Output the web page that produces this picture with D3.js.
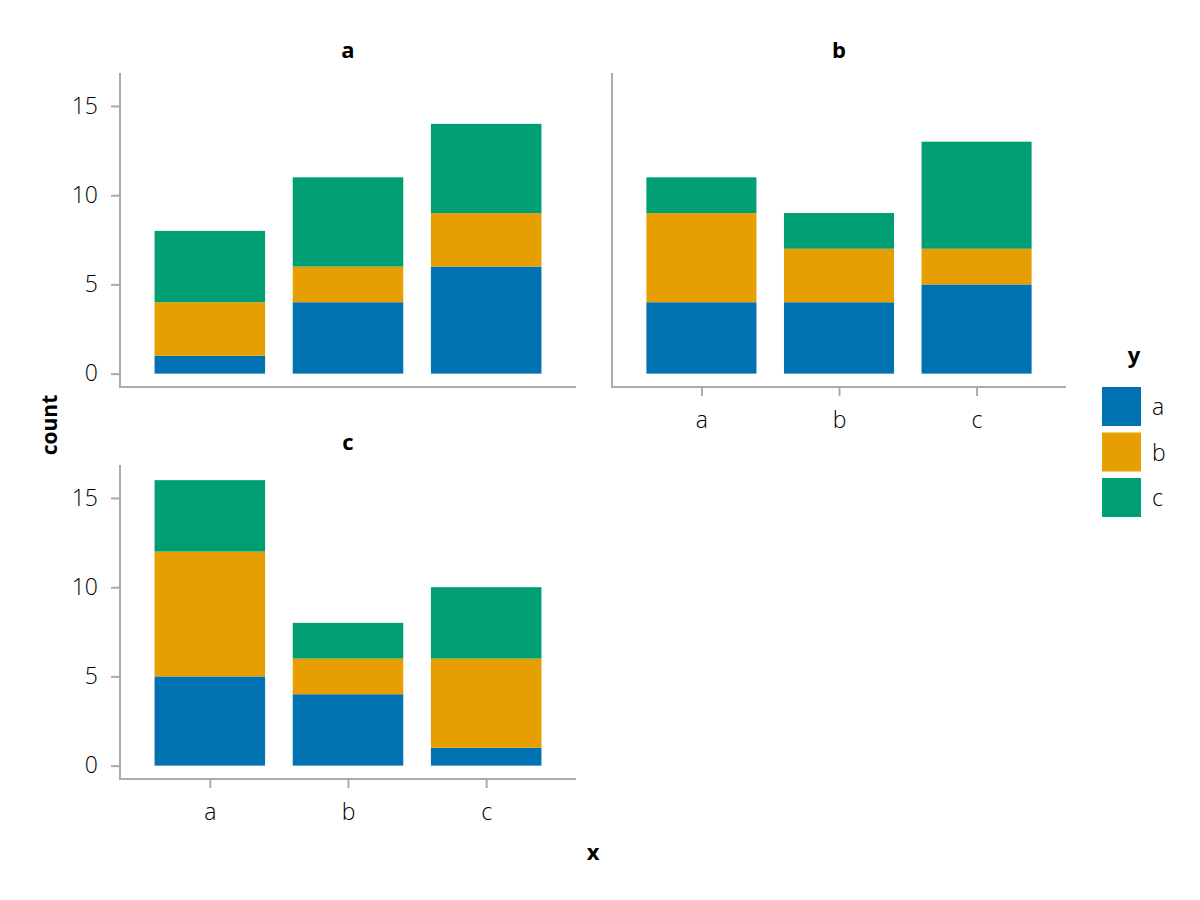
<!DOCTYPE html>
<html><head><meta charset="utf-8">
<script src="https://cdn.jsdelivr.net/npm/d3@7"></script>
<style>body{margin:0;background:#fff}</style>
</head><body><svg id="c" width="1200" height="900"></svg>
<script>
const categories = ["a","b","c"];
const groups = ["a","b","c"];
const panels = ["a","b","c"];
// values[panel][x] = [y=a, y=b, y=c]
const panelA = [[1,3,4],[4,2,5],[6,3,5]];
const panelB = [[4,5,2],[4,3,2],[5,2,6]];
const panelC = [[5,7,4],[4,2,2],[1,5,4]];
const yTicks = [0,5,10,15];
const colors = ["#0072B2","#E69F00","#009E73"];
const panelData = [panelA, panelB, panelC];

const font = "'Open Sans', 'Noto Sans', sans-serif";
const axisColor = "#ababab";
const tickFs = 23;
const svg = d3.select("#c");

const layout = [
  {x0:120, x1:576, y0:73, y1:387, title:[348,50], showX:false, showY:true},
  {x0:612, x1:1066, y0:73, y1:387, title:[839,50], showX:true, showY:false},
  {x0:120, x1:576, y0:465, y1:779, title:[348,442], showX:true, showY:true}
];

panels.forEach((p,i)=>{
  const L = layout[i];
  const g = svg.append("g");
  const x = d3.scaleLinear().domain([0.35,3.65]).range([L.x0,L.x1]);
  const y = d3.scaleLinear().domain([-0.75,16.85]).range([L.y1,L.y0]);
  const data = panelData[i];
  const stack = d3.stack().keys([0,1,2])(data);
  stack.forEach((layer,k)=>{
    g.selectAll(null).data(layer).enter().append("rect")
      .attr("x",(d,j)=>x(j+1-0.4))
      .attr("width",x(1.8)-x(1))
      .attr("y",d=>y(d[1]))
      .attr("height",d=>y(d[0])-y(d[1]))
      .attr("fill",colors[k]);
  });
  // spines
  g.append("line").attr("x1",L.x0).attr("x2",L.x0).attr("y1",L.y0).attr("y2",L.y1+1)
    .attr("stroke",axisColor).attr("stroke-width",2);
  g.append("line").attr("x1",L.x0-1).attr("x2",L.x1).attr("y1",L.y1).attr("y2",L.y1)
    .attr("stroke",axisColor).attr("stroke-width",2);
  if(L.showY){
    const ya = g.append("g").attr("transform",`translate(${L.x0-1},0)`)
      .call(d3.axisLeft(y).tickValues(yTicks).tickSize(8).tickPadding(13));
    ya.select(".domain").remove();
    ya.selectAll(".tick line").attr("stroke",axisColor).attr("stroke-width",2);
    ya.selectAll(".tick text").attr("font-family",font).attr("font-weight",300)
      .attr("font-size",tickFs).attr("fill","#000");
  }
  if(L.showX){
    const xa = g.append("g").attr("transform",`translate(0,${L.y1+1})`)
      .call(d3.axisBottom(x).tickValues([1,2,3]).tickFormat((d)=>categories[d-1]).tickSize(8).tickPadding(16));
    xa.select(".domain").remove();
    xa.selectAll(".tick line").attr("stroke",axisColor).attr("stroke-width",2);
    xa.selectAll(".tick text").attr("font-family",font).attr("font-weight",300)
      .attr("font-size",tickFs).attr("fill","#000");
  }
  svg.append("text").attr("x",L.title[0]).attr("y",L.title[1]+8).attr("text-anchor","middle")
    .attr("font-family",font).attr("font-weight",700).attr("font-size",22).text(p);
});

svg.append("text").attr("transform","translate(57,425) rotate(-90)").attr("text-anchor","middle")
  .attr("font-family",font).attr("font-weight",700).attr("font-size",21).text("count");
svg.append("text").attr("x",593).attr("y",860).attr("text-anchor","middle")
  .attr("font-family",font).attr("font-weight",700).attr("font-size",22).text("x");

// legend
const lg = svg.append("g");
lg.append("text").attr("x",1134).attr("y",363).attr("text-anchor","middle")
  .attr("font-family",font).attr("font-weight",700).attr("font-size",22).text("y");
groups.forEach((gname,k)=>{
  const yy = 387 + k*45.5;
  lg.append("rect").attr("x",1102).attr("y",yy).attr("width",39).attr("height",39).attr("fill",colors[k]);
  lg.append("text").attr("x",1152).attr("y",yy+28).attr("font-family",font).attr("font-weight",300)
    .attr("font-size",tickFs).attr("fill","#000").text(gname);
});
</script></body></html>
